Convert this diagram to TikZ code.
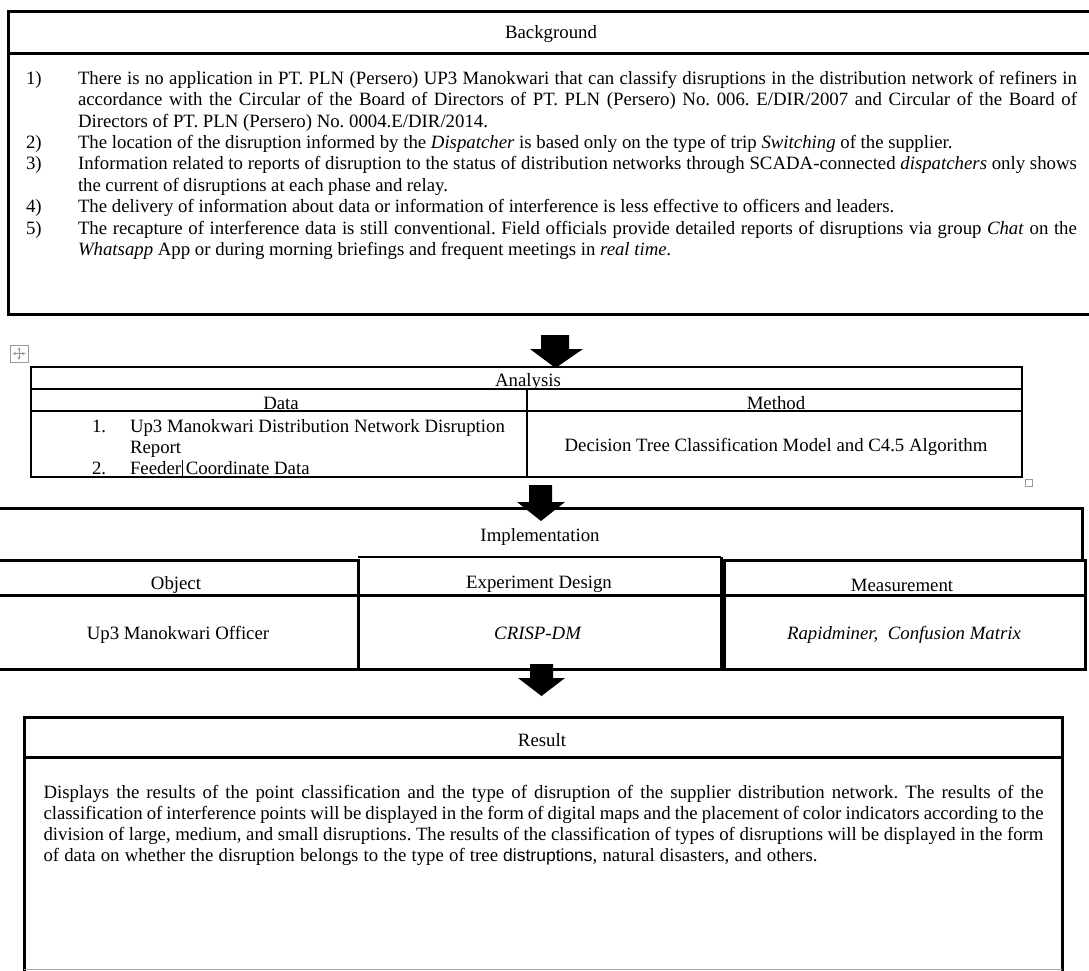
\documentclass[tikz,border=0pt]{standalone}
\usepackage{fontspec}
\setmainfont{Liberation Serif}
\setsansfont{Liberation Sans}
\frenchspacing
\newcommand\JL[2]{\makebox[#1pt][s]{#2}}
\tikzset{
  thickbox/.style={line width=3pt},
  thinbox/.style={line width=1.3pt},
  txt/.style={inner sep=0pt, outer sep=0pt, anchor=base, font=\fontsize{18.8}{21.4}\selectfont},
  txtl/.style={txt, anchor=base west},
  blockarrow/.style={fill=black, draw=none},
  uibox/.style={draw=gray!80, line width=0.8pt},
}
\begin{document}
\begin{tikzpicture}[x=1pt,y=-1pt]
\useasboundingbox (0,0) rectangle (1089,970);

% ---------------- Background ----------------
\draw[thickbox] (1100,11.5) -- (8.5,11.5) -- (8.5,314) -- (1100,314);
\draw[thickbox] (8.5,53) -- (1100,53);
\node[txt] (bgtitle) at (551,38) {Background};

\node[txtl] (n1) at (26,84.2) {1)};
\node[txtl] (b1a) at (78,84.2) {\JL{999}{There is no application in PT. PLN (Persero) UP3 Manokwari that can classify disruptions in the distribution network of refiners in}};
\node[txtl] (b1b) at (78,105.6) {\JL{999}{accordance with the Circular of the Board of Directors of PT. PLN (Persero) No. 006. E/DIR/2007 and Circular of the Board of}};
\node[txtl] (b1c) at (78,127) {Directors of PT. PLN (Persero) No. 0004.E/DIR/2014.};
\node[txtl] (n2) at (26,148.4) {2)};
\node[txtl] (b2a) at (78,148.4) {The location of the disruption informed by the \textit{Dispatcher} is based only on the type of trip \textit{Switching} of the supplier.};
\node[txtl] (n3) at (26,169.8) {3)};
\node[txtl] (b3a) at (78,169.8) {\JL{999}{Information related to reports of disruption to the status of distribution networks through SCADA-connected \textit{dispatchers} only shows}};
\node[txtl] (b3b) at (78,191.2) {\JL{370}{the current of disruptions at each phase and relay.}};
\node[txtl] (n4) at (26,212.6) {4)};
\node[txtl] (b4a) at (78,212.6) {The delivery of information about data or information of interference is less effective to officers and leaders.};
\node[txtl] (n5) at (26,234) {5)};
\node[txtl] (b5a) at (78,234) {\JL{999}{The recapture of interference data is still conventional. Field officials provide detailed reports of disruptions via group \textit{Chat} on the}};
\node[txtl] (b5b) at (78,255.4) {\textit{Whatsapp} App or during morning briefings and frequent meetings in \textit{real time.}};

% ---------------- Arrow 1 ----------------
\fill[blockarrow] (541,335) -- (569,335) -- (569,349) -- (583,349) -- (555.5,368) -- (530,349) -- (541,349) -- cycle;

% ---------------- Analysis ----------------
\draw[uibox] (10,345) rectangle (28,362);
\draw[gray!80, line width=0.6pt, <->, >=stealth] (12.5,353.5) -- (25.5,353.5);
\draw[gray!80, line width=0.6pt, <->, >=stealth] (19,347) -- (19,360);

\draw[thinbox] (31,367) rectangle (1022,477);
\draw[thinbox] (31,389) -- (1022,389);
\draw[thinbox] (31,411) -- (1022,411);
\draw[thinbox] (527,389) -- (527,477);
\draw[uibox] (1025,479) rectangle (1032,486);

\node[txt] (antitle) at (528,386) {Analysis};
\node[txt] (data) at (281,409) {Data};
\node[txt] (method) at (776,409) {Method};
\node[txtl] (d1n) at (92,432) {1.};
\node[txtl] (d1a) at (130,432) {Up3 Manokwari Distribution Network Disruption};
\node[txtl] (d1b) at (130,453) {Report};
\node[txtl] (d2n) at (92,474) {2.};
\node[txtl] (d2a) at (130,474) {Feeder Coordinate Data};
\draw[line width=1pt] (182,460) -- (182,477);
\node[txt] (meth) at (776,451) {Decision Tree Classification Model and C4.5 Algorithm};

% ---------------- Arrow 2 ----------------
\fill[blockarrow] (529,485) -- (552,485) -- (552,502) -- (565,502) -- (541,521) -- (517,502) -- (529,502) -- cycle;

% ---------------- Implementation ----------------
\draw[thickbox] (-5,508) -- (1082,508) -- (1082,560);
\draw[thickbox] (-5,560) -- (358,560) -- (358,669) -- (-5,669);
\draw[thickbox] (-5,595) -- (358,595);
\draw[line width=2.2pt] (358,557) -- (721,557);
\draw[thickbox] (721,557) -- (721,669) -- (358,669);
\draw[thickbox] (358,595) -- (721,595);
\draw[thickbox] (724,560) rectangle (1085,669);
\draw[thickbox] (724,595) -- (1085,595);

\node[txt] (impl) at (540,541) {Implementation};
\node[txt] (obj) at (176,589) {Object};
\node[txt] (exp) at (539,588) {Experiment Design};
\node[txt] (meas) at (902,591) {Measurement};
\node[txt] (officer) at (178,639) {Up3 Manokwari Officer};
\node[txt] (crisp) at (538,639) {\textit{CRISP-DM}};
\node[txt] (rapid) at (904,639) {\textit{Rapidminer,\ \ Confusion Matrix}};

% ---------------- Arrow 3 ----------------
\fill[blockarrow] (530,664) -- (553,664) -- (553,678) -- (565,678) -- (541.5,696) -- (518,678) -- (530,678) -- cycle;

% ---------------- Result ----------------
\draw[thickbox] (24,980) -- (24,717) -- (1062,717) -- (1062,980);
\draw[thickbox] (24,757) -- (1062,757);
\draw[gray!70, line width=1pt] (24,969) -- (1062,969);
\node[txt] (restitle) at (542,746) {Result};
\node[txtl] (r1) at (43.5,798) {\JL{1000}{Displays the results of the point classification and the type of disruption of the supplier distribution network. The results of the}};
\node[txtl] (r2) at (43.5,819) {\JL{1000}{classification of interference points will be displayed in the form of digital maps and the placement of color indicators according to the}};
\node[txtl] (r3) at (43.5,840) {\JL{1000}{division of large, medium, and small disruptions. The results of the classification of types of disruptions will be displayed in the form}};
\node[txtl] (r4) at (43.5,861) {\JL{774}{of data on whether the disruption belongs to the type of tree {\sffamily\fontsize{17.5}{21}\selectfont distruptions}, natural disasters, and others.}};
\end{tikzpicture}
\end{document}
